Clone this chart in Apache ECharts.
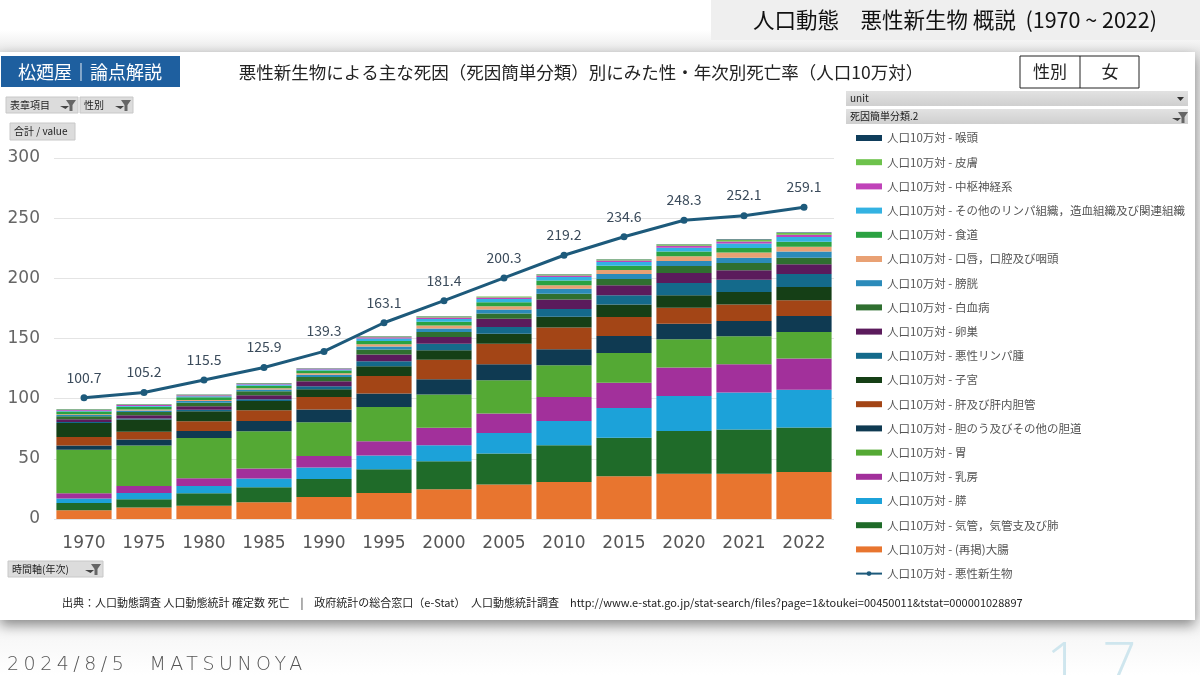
<!DOCTYPE html>
<html>
<head>
<meta charset="utf-8">
<title>悪性新生物 女 死亡率</title>
<script src="https://cdn.jsdelivr.net/npm/echarts@6.0.0/dist/echarts.min.js"></script>
<style>
    html, body { margin: 0; padding: 0; background: #fff; }
    #wrap { position: relative; width: 1200px; height: 675px; overflow: hidden;
        background: linear-gradient(#ffffff 0, #ffffff 30px, #e9e9e9 52px, #f6f6f6 630px, #ffffff 675px); }
    #panel { position: absolute; left: 0; top: 52px; width: 1195px; height: 568px; background: #fff;
        box-shadow: 0 5px 12px rgba(0,0,0,0.45); }
    #chart { position: absolute; left: 0; top: 0; width: 1200px; height: 675px; }
    #date { position: absolute; left: 7px; top: 652px; font: 300 19px "DejaVu Sans", sans-serif;
        color: #555; letter-spacing: 4.5px; white-space: pre; }
    #page { position: absolute; left: 1046px; top: 622px; font: 200 60px "Open Sans", sans-serif;
        color: #cfe6ee; letter-spacing: 22px; }
</style>
</head>
<body>
<div id="wrap">
    <div id="panel"></div>
    <div id="chart"></div>
    <div id="date">2024/8/5  MATSUNOYA</div>
    <div id="page">17</div>
</div>
<script>
// 年次
const years = ['1970', '1975', '1980', '1985', '1990', '1995', '2000', '2005', '2010', '2015', '2020', '2021', '2022'];

// 人口10万対（女）— 積み上げの下から順
const colon     = [7.2, 9.5, 11.1, 13.9, 18.2, 21.6, 24.7, 28.6, 30.7, 35.5, 37.7, 37.7, 39.1];
const lung      = [6.1, 6.9, 10.3, 12.4, 15.0, 19.7, 23.3, 25.8, 30.6, 32.1, 35.4, 36.6, 36.9];
const pancreas  = [3.7, 5.2, 6.0, 7.3, 9.5, 11.4, 13.3, 17.1, 20.1, 24.6, 29.1, 30.8, 31.5];
const breast    = [4.4, 5.8, 6.4, 8.3, 9.7, 11.9, 14.6, 16.1, 20.0, 21.1, 23.6, 23.5, 25.8];
const stomach   = [36.2, 33.6, 33.5, 31.0, 28.0, 28.5, 27.5, 27.7, 26.3, 24.6, 23.5, 23.2, 22.1];
const gallbladder = [3.4, 5.0, 5.8, 8.5, 10.5, 11.1, 12.7, 13.3, 13.3, 14.2, 13.0, 12.7, 13.3];
const liver     = [7.2, 6.6, 8.1, 8.9, 10.5, 14.6, 16.3, 17.1, 18.1, 15.8, 13.3, 13.7, 13.1];
const uterus    = [11.6, 10.0, 8.3, 7.8, 6.5, 8.1, 7.8, 8.3, 8.9, 10.3, 10.3, 10.5, 11.0];
const lymphoma  = [0.8, 1.0, 1.2, 1.5, 2.5, 4.1, 5.5, 5.6, 6.6, 7.7, 10.2, 10.2, 10.8];
const ovary     = [2.2, 2.6, 3.0, 3.2, 4.0, 5.8, 5.5, 6.9, 7.8, 8.3, 8.3, 7.8, 8.0];
const leukemia  = [2.5, 2.8, 3.0, 3.3, 3.6, 4.0, 4.2, 4.3, 4.8, 5.3, 5.8, 6.1, 5.6];
const bladder   = [1.1, 1.2, 1.4, 1.6, 1.9, 2.5, 3.0, 3.4, 4.1, 4.0, 4.3, 4.4, 5.0];
const oral      = [0.6, 0.7, 0.8, 1.0, 1.3, 1.9, 2.3, 2.6, 3.0, 3.4, 3.9, 4.2, 4.0];
const esophagus = [2.4, 2.3, 2.2, 2.1, 2.2, 2.8, 3.2, 3.4, 3.8, 3.6, 3.8, 3.8, 4.2];
const otherLymph = [0.6, 0.8, 0.9, 1.0, 0.8, 2.0, 2.4, 2.6, 3.0, 3.1, 3.3, 3.7, 4.0];
const cns       = [0.5, 0.7, 0.8, 0.7, 0.6, 1.0, 1.2, 1.2, 1.2, 1.2, 1.5, 1.7, 1.8];
const skin      = [0.5, 0.4, 0.4, 0.3, 0.3, 0.6, 0.7, 0.8, 0.8, 0.8, 1.1, 1.5, 1.5];
const larynx    = [0.2, 0.2, 0.2, 0.2, 0.1, 0.2, 0.2, 0.2, 0.2, 0.2, 0.2, 0.3, 0.3];

// 悪性新生物（合計）
const totalAll = [100.7, 105.2, 115.5, 125.9, 139.3, 163.1, 181.4, 200.3, 219.2, 234.6, 248.3, 252.1, 259.1];

const yTicks = [0, 50, 100, 150, 200, 250, 300];

const PREFIX = '人口10万対 - ';
const causes = [
    { name: '(再掲)大腸', data: colon, color: '#e8752f' },
    { name: '気管，気管支及び肺', data: lung, color: '#1f6b29' },
    { name: '膵', data: pancreas, color: '#1ca2d9' },
    { name: '乳房', data: breast, color: '#a2309b' },
    { name: '胃', data: stomach, color: '#54a934' },
    { name: '胆のう及びその他の胆道', data: gallbladder, color: '#0f3a52' },
    { name: '肝及び肝内胆管', data: liver, color: '#a34516' },
    { name: '子宮', data: uterus, color: '#153f16' },
    { name: '悪性リンパ腫', data: lymphoma, color: '#146a8b' },
    { name: '卵巣', data: ovary, color: '#5b1b5c' },
    { name: '白血病', data: leukemia, color: '#2f6f30' },
    { name: '膀胱', data: bladder, color: '#2b8bba' },
    { name: '口唇，口腔及び咽頭', data: oral, color: '#e9a174' },
    { name: '食道', data: esophagus, color: '#2ba242' },
    { name: 'その他のリンパ組織，造血組織及び関連組織', data: otherLymph, color: '#33b2e2' },
    { name: '中枢神経系', data: cns, color: '#c043b9' },
    { name: '皮膚', data: skin, color: '#6dc24c' },
    { name: '喉頭', data: larynx, color: '#0f3d5b' }
];
const lineName = PREFIX + '悪性新生物';
const lineColor = '#1d5a7b';

const FONT = '"Noto Sans CJK JP", "Noto Sans", sans-serif';

const chart = echarts.init(document.getElementById('chart'));

// フィルタボタン用の小さな漏斗アイコン
function funnel(x, y) {
    return [
        { type: 'polygon', z: 100, shape: { points: [[x - 6, y + 1], [x + 3, y + 1], [x - 0.5, y + 4]] }, style: { fill: '#444' } },
        { type: 'polygon', z: 100, shape: { points: [[x, y - 5], [x + 10, y - 5], [x + 6.5, y], [x + 6.5, y + 6], [x + 3.5, y + 6], [x + 3.5, y]] }, style: { fill: '#666' } }
    ];
}

function button(x, y, w, h, label, withFunnel) {
    const els = [
        { type: 'rect', z: 100, shape: { x: x, y: y, width: w, height: h }, style: { fill: '#dcdcdc', stroke: '#c8c8c8', lineWidth: 1 } },
        { type: 'text', z: 101, x: x + 4, y: y + h / 2, style: { text: label, font: '10px ' + FONT, fill: '#222', textVerticalAlign: 'middle' } }
    ];
    if (withFunnel) {
        els.push(...funnel(x + w - 12, y + h / 2));
    }
    return els;
}

function dropBar(y, label, withFunnel) {
    const els = [
        { type: 'rect', z: 100, shape: { x: 846, y: y, width: 342, height: 15 },
          style: { fill: new echarts.graphic.LinearGradient(0, 0, 0, 1, [{ offset: 0, color: '#e2e2e2' }, { offset: 1, color: '#cfcfcf' }]) } },
        { type: 'text', z: 101, x: 850, y: y + 7.5, style: { text: label, font: '10px ' + FONT, fill: '#222', textVerticalAlign: 'middle' } }
    ];
    if (withFunnel) {
        els.push(...funnel(1178, y + 8));
    } else {
        els.push({ type: 'polygon', z: 101, shape: { points: [[1177, y + 6], [1184, y + 6], [1180.5, y + 10]] }, style: { fill: '#333' } });
    }
    return els;
}

const graphics = [
    // 右上の見出し
    { type: 'rect', z: 100, shape: { x: 711, y: 0, width: 489, height: 40 }, style: { fill: '#efefef' } },
    { type: 'text', z: 101, x: 955, y: 20, style: { text: '人口動態　悪性新生物 概説  (1970 ~ 2022)', font: '21.5px ' + FONT, fill: '#111', textAlign: 'center', textVerticalAlign: 'middle' } },
    // ロゴ
    { type: 'rect', z: 100, shape: { x: 1, y: 56, width: 179, height: 31 }, style: { fill: '#1e5f9f' } },
    { type: 'text', z: 101, x: 90, y: 72, style: { text: '松廼屋｜論点解説', font: '18px ' + FONT, fill: '#fff', textAlign: 'center', textVerticalAlign: 'middle' } },
    // タイトル
    { type: 'text', z: 101, x: 581, y: 72, style: { text: '悪性新生物による主な死因（死因簡単分類）別にみた性・年次別死亡率（人口10万対）', font: '17.5px ' + FONT, fill: '#222', textAlign: 'center', textVerticalAlign: 'middle' } },
    // 性別ボックス
    { type: 'rect', z: 100, shape: { x: 1020, y: 56, width: 119, height: 32 }, style: { fill: '#fff', stroke: '#222', lineWidth: 1 } },
    { type: 'line', z: 101, shape: { x1: 1080, y1: 56, x2: 1080, y2: 88 }, style: { stroke: '#222', lineWidth: 1 } },
    { type: 'text', z: 101, x: 1050, y: 72, style: { text: '性別', font: '17px ' + FONT, fill: '#222', textAlign: 'center', textVerticalAlign: 'middle' } },
    { type: 'text', z: 101, x: 1110, y: 72, style: { text: '女', font: '17px ' + FONT, fill: '#222', textAlign: 'center', textVerticalAlign: 'middle' } },
    ...button(6, 97, 72, 16, '表章項目', true),
    ...button(80, 97, 53, 16, '性別', true),
    ...button(10, 123, 65, 17, '合計 / value', false),
    ...button(8, 561, 95, 16, '時間軸(年次)', true),
    ...dropBar(91, 'unit', false),
    ...dropBar(109, '死因簡単分類.2', true),
    // 出典
    { type: 'text', z: 101, x: 62, y: 603, style: { text: '出典：人口動態調査 人口動態統計 確定数 死亡　|　政府統計の総合窓口（e-Stat）　人口動態統計調査　http://www.e-stat.go.jp/stat-search/files?page=1&toukei=00450011&tstat=000001028897', font: '11px ' + FONT, fill: '#222', textVerticalAlign: 'middle' } }
];

const series = causes.map(c => ({
    name: PREFIX + c.name,
    type: 'bar',
    stack: 'total',
    data: c.data,
    barCategoryGap: '8%',
    itemStyle: { color: c.color },
    emphasis: { disabled: true }
}));

series.push({
    name: lineName,
    type: 'line',
    data: totalAll,
    symbol: 'circle',
    symbolSize: 7,
    lineStyle: { width: 3, color: lineColor },
    itemStyle: { color: lineColor },
    label: {
        show: true,
        position: 'top',
        distance: 10,
        fontSize: 14,
        color: '#3b4b5b',
        fontFamily: FONT,
        formatter: p => p.value.toFixed(1)
    },
    z: 5
});

chart.setOption({
    animation: false,
    textStyle: { fontFamily: FONT },
    graphic: graphics,
    grid: { left: 54, right: 366, top: 158, bottom: 156 },
    legend: {
        orient: 'vertical',
        left: 850,
        top: 126,
        itemWidth: 26,
        itemHeight: 6,
        itemGap: 10.2,
        selectedMode: false,
        textStyle: { fontSize: 11.5, color: '#555', lineHeight: 14, fontFamily: FONT },
        data: causes.slice().reverse().map(c => ({ name: PREFIX + c.name, icon: 'rect' })).concat([{ name: lineName }])
    },
    xAxis: {
        type: 'category',
        data: years,
        axisLine: { show: false },
        axisTick: { show: false },
        axisLabel: { fontSize: 17, color: '#555', margin: 16, fontFamily: 'Verdana, "DejaVu Sans", sans-serif' }
    },
    yAxis: {
        type: 'value',
        min: yTicks[0],
        max: yTicks[yTicks.length - 1],
        interval: yTicks[1] - yTicks[0],
        axisLine: { show: false },
        axisTick: { show: false },
        splitLine: { lineStyle: { color: '#e4e4e4' } },
        axisLabel: { fontSize: 17, color: '#666', margin: 14, fontFamily: 'Verdana, "DejaVu Sans", sans-serif' }
    },
    series: series
});
</script>
</body>
</html>
